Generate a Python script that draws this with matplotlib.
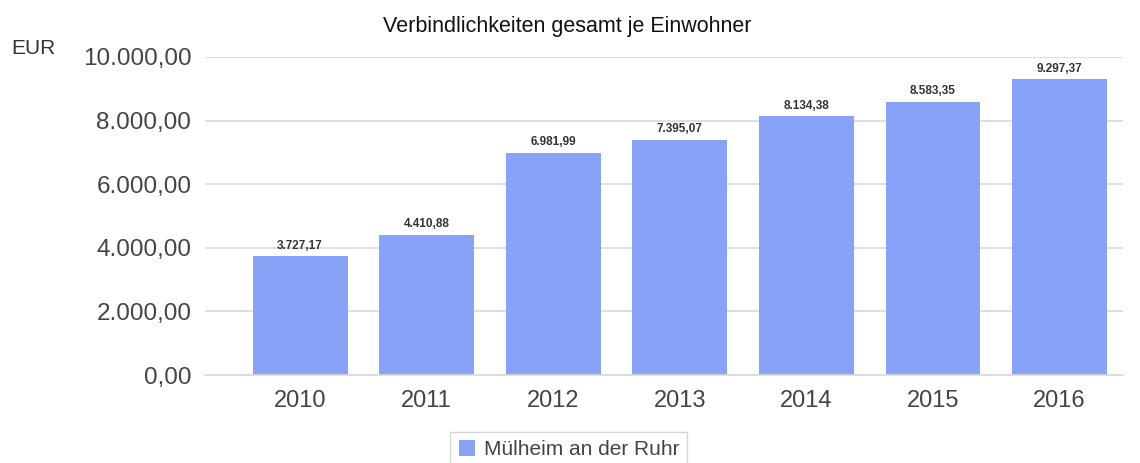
import matplotlib.pyplot as plt
import numpy as np

plt.rcParams['font.family'] = ['Liberation Sans', 'DejaVu Sans']

years = ['2010', '2011', '2012', '2013', '2014', '2015', '2016']
values = [3727.17, 4410.88, 6981.99, 7395.07, 8134.38, 8583.35, 9297.37]
yticks = [0, 2000, 4000, 6000, 8000, 10000]


def de_fmt(v):
    s = '{:,.2f}'.format(v)
    return s.replace(',', 'X').replace('.', ',').replace('X', '.')


fig = plt.figure(figsize=(11.4, 4.63), dpi=100)
ax = fig.add_axes([0.18, 0.19, 0.805, 0.687])

x = np.arange(len(years))
bars = ax.bar(x, values, width=0.75, color='#87a3f8', label='Mülheim an der Ruhr', zorder=2)

for xi, v in zip(x, values):
    ax.text(xi, v + 150, de_fmt(v), ha='center', va='bottom', fontsize=8.5,
            fontweight='bold', color='#333333')

ax.set_xlim(-0.75, 6.5)
ax.set_ylim(0, 10000)
ax.set_yticks(yticks)
ax.set_yticklabels([de_fmt(t) for t in yticks])
ax.set_xticks(x)
ax.set_xticklabels(years)
ax.tick_params(axis='y', length=0, pad=10, labelsize=17.5, labelcolor='#444444')
ax.tick_params(axis='x', length=0, pad=11, labelsize=17, labelcolor='#444444')
ax.grid(axis='y', color='#d9d9d9', linewidth=1.2, zorder=0)
for s in ['top', 'right', 'left']:
    ax.spines[s].set_visible(False)
ax.spines['bottom'].set_color('#d9d9d9')
ax.spines['bottom'].set_linewidth(1.2)

fig.text(0.498, 0.942, 'Verbindlichkeiten gesamt je Einwohner', ha='center', va='center',
         fontsize=15.5, color='#111111')
fig.text(0.010, 0.895, 'EUR', ha='left', va='center', fontsize=15, color='#333333')

leg = fig.legend(loc='lower center', bbox_to_anchor=(0.499, -0.032), fontsize=15,
                 frameon=True, fancybox=False, edgecolor='#cccccc',
                 handlelength=0.8, handleheight=0.8, handletextpad=0.4,
                 borderpad=0.4)
for t in leg.get_texts():
    t.set_color('#444444')

fig.savefig('out.png', dpi=100)
